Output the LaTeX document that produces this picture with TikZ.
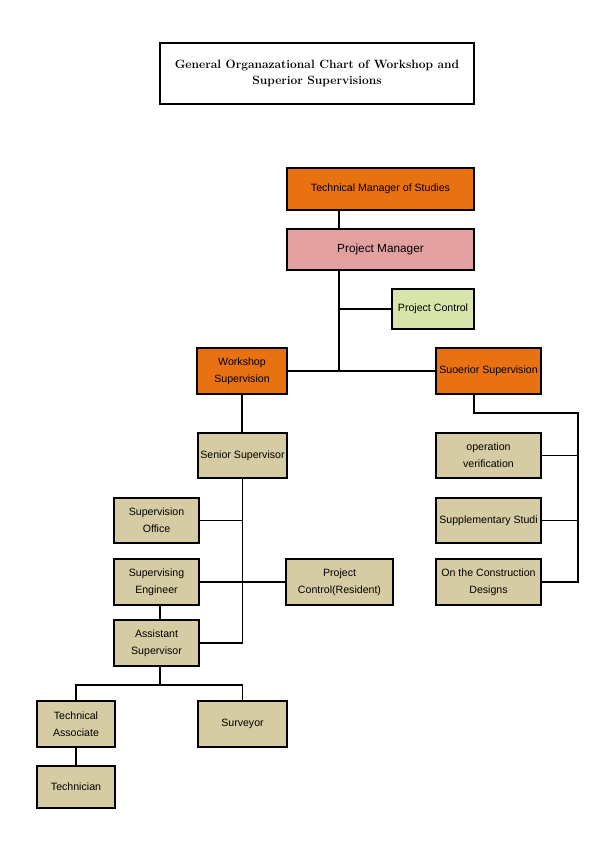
\documentclass[tikz,border=0pt]{standalone}
\usepackage{fontspec}
\setsansfont{Liberation Sans}
\usepackage{tikz}
\usetikzlibrary{positioning}
\usetikzlibrary{calc}

\definecolor{orgfill}{RGB}{232,113,18}
\definecolor{pmfill}{RGB}{227,160,160}
\definecolor{pcfill}{RGB}{215,228,170}
\definecolor{tanfill}{RGB}{214,204,164}

\begin{document}
\begin{tikzpicture}[x=1pt,y=-1pt,
  unit/.style={draw,line width=1.7pt,fill=tanfill,inner sep=0pt,align=center,
    font=\sffamily\fontsize{10.6}{17}\selectfont},
  link/.style={line width=1.7pt}]
  \useasboundingbox (0,0) rectangle (595,842);
  \node[draw,line width=1.5pt,minimum width=314pt,minimum height=61pt,align=center,
    font=\bfseries\fontsize{12}{16}\selectfont] (title) at (317,73.5)
    {General Organazational Chart of Workshop and\\Superior Supervisions};
  \node[unit,fill=orgfill,minimum width=187pt,minimum height=42pt] (tms) at (380.5,189) {Technical Manager of Studies};
  \node[unit,fill=pmfill,minimum width=187pt,minimum height=41pt,font=\sffamily\fontsize{11.8}{17}\selectfont] (pm) at (380.5,249.5) {Project Manager};
  \node[unit,fill=pcfill,minimum width=82pt,minimum height=40pt] (pc) at (433,309) {Project Control};
  \node[unit,fill=orgfill,minimum width=90pt,minimum height=46pt] (ws) at (242,371) {Workshop\\Supervision};
  \node[unit,fill=orgfill,minimum width=105pt,minimum height=46pt] (ss) at (488.5,371) {Suoerior Supervision};
  \node[unit,minimum width=89pt,minimum height=45pt] (sen) at (242.5,455.5) {Senior Supervisor};
  \node[unit,minimum width=85pt,minimum height=45pt] (so) at (156.5,520.5) {Supervision\\Office};
  \node[unit,minimum width=85pt,minimum height=46pt] (se) at (156.5,582) {Supervising\\Engineer};
  \node[unit,minimum width=107pt,minimum height=46pt] (pcr) at (339.5,582) {Project\\Control(Resident)};
  \node[unit,minimum width=85pt,minimum height=46pt] (as) at (156.5,643) {Assistant\\Supervisor};
  \node[unit,minimum width=78pt,minimum height=46pt] (ta) at (76,724) {Technical\\Associate};
  \node[unit,minimum width=89pt,minimum height=46pt] (sur) at (242.5,724) {Surveyor};
  \node[unit,minimum width=78pt,minimum height=42pt] (tech) at (76,787) {Technician};
  \node[unit,minimum width=105pt,minimum height=45pt] (ov) at (488.5,455.5) {operation\\verification};
  \node[unit,minimum width=105pt,minimum height=45pt] (sup) at (488.5,520.5) {Supplementary Studi};
  \node[unit,minimum width=105pt,minimum height=46pt] (otc) at (488.5,582) {On the Construction\\Designs};

  % trunk under the managers
  \coordinate (trunk) at (339,371);
  \draw[link] (tms.south -| trunk) -- (pm.north -| trunk);
  \draw[link] (pm.south -| trunk) -- (trunk);
  \draw[link] (pc.west) -- (pc.west -| trunk);
  \draw[link] (ws.east) -- (ss.west);
  % superior supervision branch
  \coordinate (rbus) at (578,413);
  \draw[link] ([xshift=-14.5pt]ss.south) |- (rbus) -- (otc.east -| rbus) -- (otc.east);
  \draw[link] (ov.east) -- (ov.east -| rbus);
  \draw[link] (sup.east) -- (sup.east -| rbus);
  % workshop branch
  \draw[link] (ws.south) -- (ws.south |- sen.north);
  \draw[link] (sen.south) |- (as.east);
  \draw[link] (so.east) -- (so.east -| sen.south);
  \draw[link] (se.east) -- (pcr.west);
  \draw[link] ([xshift=3.5pt]se.south) -- ([xshift=3.5pt]as.north);
  \coordinate (split) at (160,685);
  \draw[link] ([xshift=3.5pt]as.south) -- (split);
  \draw[link] (ta.north) |- (split) -| (sur.north);
  \draw[link] (ta.south) -- (tech.north);
\end{tikzpicture}
\end{document}
